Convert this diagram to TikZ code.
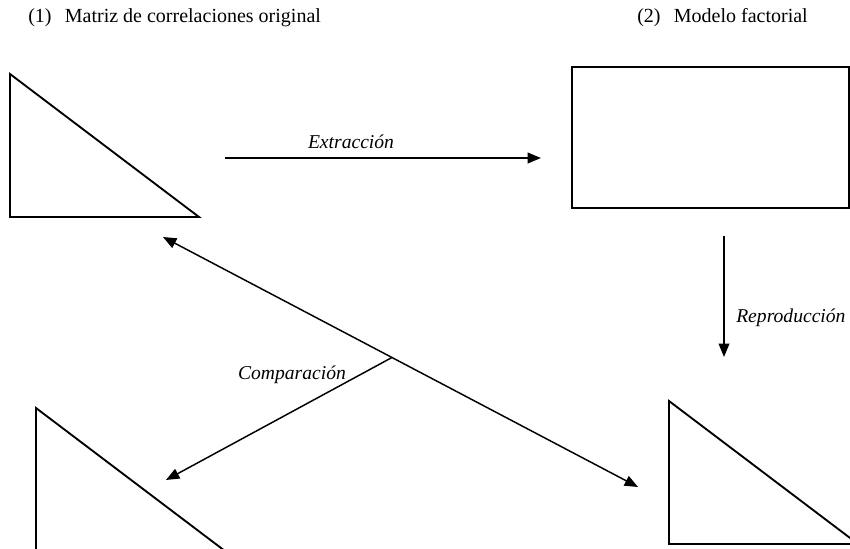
\documentclass[tikz,border=0pt]{standalone}
\usepackage{fontspec}
\setmainfont{Liberation Serif}
\usetikzlibrary{arrows.meta,calc}
\begin{document}
\begin{tikzpicture}[
  x=0.75pt, y=-0.75pt,
  ttllbl/.style={font=\fontsize{15}{17}\selectfont, anchor=west, inner sep=0pt},
  arrlbl/.style={font=\fontsize{14.7}{17}\selectfont\itshape, inner sep=0pt},
  matshape/.style={line width=1.4pt, line join=miter},
  flowarr/.style={line width=1.1pt, -{Triangle[length=10pt, width=8pt]}},
  duoarr/.style={line width=1.1pt, {Triangle[length=10pt, width=8pt]}-{Triangle[length=10pt, width=8pt]}},
]
\useasboundingbox (0,0) rectangle (850,549);
\clip (0,0) rectangle (850,549);

%% ── Titles ───────────────────────────────────────────────────────────────────
\node[ttllbl] (ttlorig)  at (28,18)  {(1)\hspace{10pt}Matriz de correlaciones original};
\node[ttllbl] (ttlmodel) at (637,18) {(2)\hspace{10pt}Modelo factorial};

%% ── Matrices (triangles) and factor model (rectangle) ────────────────────────
\draw[matshape] (10,74) -- (10,217) -- (199,217) -- cycle;
\draw[matshape] (572,67) rectangle (849,208);
\draw[matshape] (669,401) -- (669,544) -- (858,544) -- cycle;
\draw[matshape] (36,408) -- (36,551) -- (225,551) -- cycle;

%% ── Arrow end points ─────────────────────────────────────────────────────────
\coordinate (extrA) at (225,158);
\coordinate (extrB) at (541,158);
\coordinate (reprA) at (724,236);
\coordinate (reprB) at (724,357);
\coordinate (cmpA)  at (163,237);
\coordinate (cmpB)  at (638,487);
\coordinate (cmpC)  at ($(cmpA)!0.482!(cmpB)$);
\coordinate (cmpD)  at (166,480);

%% ── Arrows ───────────────────────────────────────────────────────────────────
\draw[flowarr] (extrA) -- (extrB);
\draw[flowarr] (reprA) -- (reprB);
\draw[duoarr]  (cmpA) -- (cmpB);
\draw[flowarr] (cmpC) -- (cmpD);

%% ── Arrow labels ─────────────────────────────────────────────────────────────
\node[arrlbl] (lblextr) at (351,142) {Extracción};
\node[arrlbl, anchor=west] (lblrepr) at (736,318) {Reproducción};
\node[arrlbl] (lblcmp) at (292,375) {Comparación};

\end{tikzpicture}
\end{document}
